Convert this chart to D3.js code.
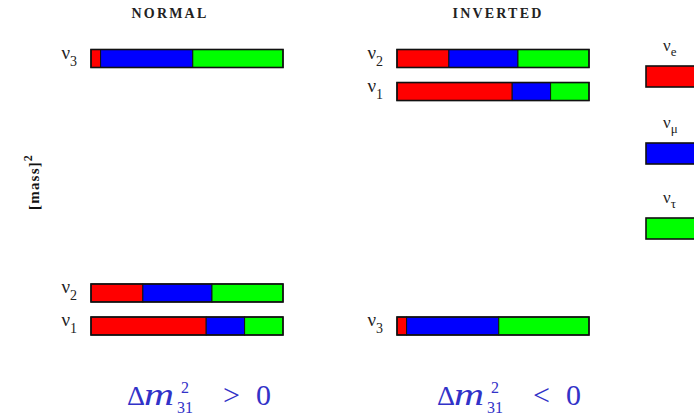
<!DOCTYPE html>
<html>
<head>
<meta charset="utf-8">
<script src="https://cdn.jsdelivr.net/npm/d3@7"></script>
<style>
  html, body { margin: 0; padding: 0; background: #fff; }
  svg { display: block; }
</style>
</head>
<body>
<svg id="chart" width="694" height="419"></svg>
<script>
// ---- data ----
const massStates = ["1", "2", "3"];
const flavorNames = ["e", "μ", "τ"];
const flavorColors = ["#ff0000", "#0000ff", "#00ff00"];
const eShare   = [0.60, 0.27, 0.05];
const muShare  = [0.20, 0.36, 0.48];
const tauShare = [0.20, 0.37, 0.47];
const normalMass2   = [0, 1, 8.1];
const invertedMass2 = [7.1, 8.1, 0];
const panelTitles = ["NORMAL", "INVERTED"];
const panelSigns = [">", "<"];

const svg = d3.select("#chart");
const serif = "'Liberation Serif', 'DejaVu Serif', serif";

const y = d3.scaleLinear().domain([0, 8.1]).range([326, 58.5]);
const barH = 18;

const panels = [
  { title: panelTitles[0], sign: panelSigns[0], mass: normalMass2, x: d3.scaleLinear().domain([0, 1]).range([91, 283]), titleX: 170, formulaX: 127 },
  { title: panelTitles[1], sign: panelSigns[1], mass: invertedMass2, x: d3.scaleLinear().domain([0, 1]).range([397, 589]), titleX: 498, formulaX: 437 }
];

const shares = massStates.map((s, i) => [eShare[i], muShare[i], tauShare[i]]);

panels.forEach(p => {
  const g = svg.append("g");
  g.append("text")
    .attr("x", p.titleX).attr("y", 18)
    .attr("text-anchor", "middle")
    .attr("font-family", serif).attr("font-size", 14).attr("font-weight", "bold")
    .attr("letter-spacing", 2.2)
    .attr("fill", "#222")
    .text(p.title);

  massStates.forEach((s, i) => {
    const cy = y(p.mass[i]);
    let acc = 0;
    const segs = shares[i].map((v, k) => { const seg = { x0: acc, x1: acc + v, k }; acc += v; return seg; });
    g.selectAll(null).data(segs).enter().append("rect")
      .attr("x", d => p.x(d.x0))
      .attr("y", cy - barH / 2)
      .attr("width", d => p.x(d.x1) - p.x(d.x0))
      .attr("height", barH)
      .attr("fill", d => flavorColors[d.k])
      .attr("stroke", "#111").attr("stroke-width", 1);
    g.append("rect")
      .attr("x", p.x(0)).attr("y", cy - barH / 2)
      .attr("width", p.x(1) - p.x(0)).attr("height", barH)
      .attr("fill", "none").attr("stroke", "#111").attr("stroke-width", 1.6);
    const t = g.append("text")
      .attr("x", p.x(0) - 14).attr("y", cy)
      .attr("text-anchor", "end")
      .attr("font-family", serif).attr("font-size", 19).attr("fill", "#222");
    t.append("tspan").text("ν");
    t.append("tspan").attr("dy", 7).attr("font-size", 14).text(s);
  });

  // formula  Δm²₃₁ > 0  (one text element)
  const fy = 405;
  const mx = p.formulaX + 17;
  const f = g.append("text")
    .attr("x", p.formulaX).attr("y", fy)
    .attr("font-family", serif).attr("font-size", 28).attr("fill", "#3232c8");
  f.append("tspan").text("Δ");
  f.append("tspan").attr("x", mx).attr("font-size", 32).attr("font-style", "italic")
    .attr("textLength", 30).attr("lengthAdjust", "spacingAndGlyphs").text("m");
  f.append("tspan").attr("x", mx + 37).attr("dy", -12).attr("font-size", 16).text("2");
  f.append("tspan").attr("x", mx + 33).attr("dy", 20).attr("font-size", 16).text("31");
  f.append("tspan").attr("x", p.formulaX + 96).attr("dy", -8).attr("font-size", 30).text(p.sign);
  f.append("tspan").attr("x", p.formulaX + 129).attr("font-size", 30).text("0");
});

// y-axis label
const yl = svg.append("text")
  .attr("transform", "translate(39,210) rotate(-90)")
  .attr("font-family", serif).attr("font-size", 15).attr("font-weight", "bold")
  .attr("letter-spacing", 1.2).attr("fill", "#111");
yl.append("tspan").text("[mass]");
yl.append("tspan").attr("dy", -7).attr("font-size", 12).text("2");

// legend
const legendY = [66, 143, 218];
const leg = svg.append("g");
flavorNames.forEach((n, i) => {
  leg.append("rect")
    .attr("x", 646).attr("y", legendY[i]).attr("width", 70).attr("height", 21)
    .attr("fill", flavorColors[i]).attr("stroke", "#111").attr("stroke-width", 1.6);
  const t = leg.append("text")
    .attr("x", 663).attr("y", legendY[i] - 15)
    .attr("font-family", serif).attr("font-size", 17).attr("fill", "#222");
  t.append("tspan").text("ν");
  t.append("tspan").attr("dy", 5).attr("font-size", 13).text(n);
});
</script>
</body>
</html>
